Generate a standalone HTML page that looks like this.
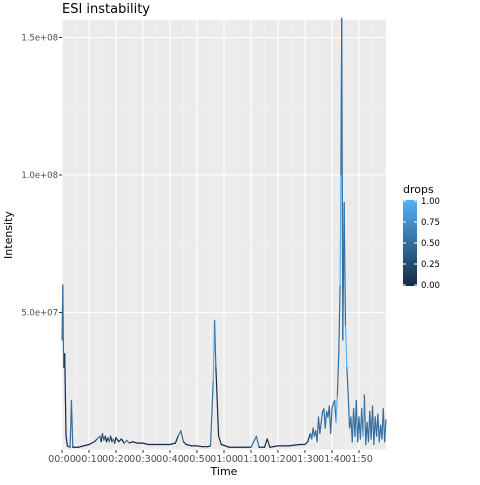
<!DOCTYPE html>
<html><head><meta charset="utf-8"><style>
body{margin:0;background:#fff;}
svg text{font-family:"DejaVu Sans","Liberation Sans",sans-serif;}
</style></head><body>
<svg id="chart" width="480" height="480" xmlns="http://www.w3.org/2000/svg">
<defs><linearGradient id="lg" x1="0" y1="1" x2="0" y2="0"><stop offset="0" stop-color="#132B43"/><stop offset="1" stop-color="#56B1F7"/></linearGradient></defs>
<text x="62" y="13" font-size="13" fill="#000">ESI instability</text>
<rect x="62" y="20" width="324" height="430" fill="#EBEBEB"/>
<g id="grid"></g>
<g id="series"></g>
<g id="axes"></g>
<text x="224" y="475" font-size="11" text-anchor="middle" fill="#000">Time</text>
<text transform="translate(12,235) rotate(-90)" font-size="11" text-anchor="middle" fill="#000">Intensity</text>
<g>
<text x="403" y="193" font-size="11" fill="#000">drops</text>
<rect x="403" y="200" width="14" height="86" fill="url(#lg)"/>
<g id="legend-ticks"></g>
</g>
</svg>
<script>
const times=[0,0.3,0.6,1,1.5,2,3,3.5,4,6,8,10,12,13,14,14.5,15,15.5,16,16.5,17,17.5,18,18.5,19,19.5,20,21,22,23,24,25,26,28,30,32,34,36,38,40,42,43,44,45,46,48,50,52,54,55,56,56.5,57,58,59,62,66,70,72,73,75,76,77,80,84,88,90,91,92,92.5,93,93.5,94,94.5,95,95.5,96,96.5,97,97.5,98,98.5,99,99.5,100,100.5,101,101.5,102,102.5,103,103.3,103.6,104,104.5,105,105.5,106,106.5,107,107.5,108,108.5,109,109.5,110,110.5,111,111.5,112,112.5,113,113.5,114,114.5,115,115.5,116,116.5,117,117.5,118,118.5,119,119.5,120];
const intensity=[40,60,30,35,5,1.5,1,18,1,1,1.5,2,3,4,5,3,6,3.5,5,3,4.5,3,5,3,4,2.5,4.5,3,4,2.5,3.5,2.5,3,2.5,2.5,2,2,2,2,2,2.5,5,7,3,2,1.5,1.5,1.2,1.2,1.5,25,47,30,5,2,1,1,1,5,1,1,4,1,1.5,1.5,2,2,3,6,4,8,5,7,3,12,6,10,14,15,8,14,12,16,6,15,17,18,10,20,35,60,100,157,40,90,45,30,20,8,12,3,15,5,18,3,12,4,15,5,20,2,10,3,14,4,16,2,12,5,13,3,9,4,15,3,11,5,14,4,20];
const drops=[1,0,1,0,0,0,0,1,0,0,0,0,0,0,1,0,0,1,0,0,0,1,0,0,1,0,0,0,0,0,1,0,0,0,0,0,0,0,0,0,0,0,1,0,0,0,0,0,0,0,1,1,0,0,0,0,0,0,1,0,0,0,0,0,0,0,0,0,0,1,0,1,0,1,0,1,0,1,0,1,0,1,0,1,0,1,0,1,1,0,1,1,0,1,0,1,1,0,1,0,1,0,1,0,1,0,1,0,1,1,0,1,0,1,0,1,0,1,0,1,0,1,0,1,0,1,0,1];
const yTickVals=[50,100,150];
const yTickLabels=["5.0e+07","1.0e+08","1.5e+08"];
const xTickVals=[0,10,20,30,40,50,60,70,80,90,100,110];
const xTickLabels=["00:00","00:10","00:20","00:30","00:40","00:50","01:00","01:10","01:20","01:30","01:40","01:50"];
const legendVals=[0,0.25,0.5,0.75,1];
const legendLabels=["0.00","0.25","0.50","0.75","1.00"];
const NS="http://www.w3.org/2000/svg";
const X0=62,X1=386,Y0=450,YT=20;
const xs=t=>X0+t/120*(X1-X0);
const ys=v=>Y0-v*2.75;
function mk(tag,attrs,parent){const e=document.createElementNS(NS,tag);for(const k in attrs)e.setAttribute(k,attrs[k]);parent.appendChild(e);return e;}
const grid=document.getElementById('grid');
[25,75,125].forEach(v=>{const l=mk('line',{x1:X0,x2:X1,y1:ys(v),y2:ys(v),stroke:'#F5F5F5','stroke-width':0.6},grid);

});
[0].concat(yTickVals).forEach(v=>{const l=mk('line',{x1:X0,x2:X1,y1:ys(v),y2:ys(v),stroke:'#fff','stroke-width':1.1},grid);

});
xTickVals.forEach(t=>{const m=mk('line',{x1:xs(t+5),x2:xs(t+5),y1:YT,y2:Y0,stroke:'#F5F5F5','stroke-width':0.6},grid);


const l=mk('line',{x1:xs(t),x2:xs(t),y1:YT,y2:Y0,stroke:'#fff','stroke-width':1.1},grid);

});
const ser=document.getElementById('series');
function col(d){const a=[0x13,0x2B,0x43],b=[0x56,0xB1,0xF7];return 'rgb('+a.map((c,i)=>Math.round(c+(b[i]-c)*d)).join(',')+')';}
for(let i=0;i<times.length-1;i++){
const s=mk('line',{x1:xs(times[i]),y1:ys(intensity[i]),x2:xs(times[i+1]),y2:ys(intensity[i+1]),stroke:col(((drops[i]||0)+(drops[i+1]||0))/2),'stroke-width':1.2,'stroke-linecap':'round'},ser);

}
const ax=document.getElementById('axes');
yTickVals.forEach((v,i)=>{const t=mk('text',{x:58,y:ys(v)+3,'font-size':8.5,fill:'#4D4D4D','text-anchor':'end'},ax);t.textContent=yTickLabels[i];


const k=mk('line',{x1:59,x2:62,y1:ys(v),y2:ys(v),stroke:'#333','stroke-width':1},ax);

});
xTickVals.forEach((v,i)=>{const t=mk('text',{x:xs(v),y:462,'font-size':9.6,fill:'#4D4D4D','text-anchor':'middle'},ax);t.textContent=xTickLabels[i];


const k=mk('line',{x1:xs(v),x2:xs(v),y1:450,y2:453,stroke:'#333','stroke-width':1},ax);

});
const lt=document.getElementById('legend-ticks');
legendVals.forEach((v,i)=>{const y=285-v*84;
const t=mk('text',{x:421,y:y+3,'font-size':8.5,fill:'#000'},lt);t.textContent=legendLabels[i];


[403,414].forEach(x=>{const k=mk('line',{x1:x,x2:x+3,y1:y,y2:y,stroke:'#fff','stroke-width':1},lt);

});});
</script>
</body></html>
